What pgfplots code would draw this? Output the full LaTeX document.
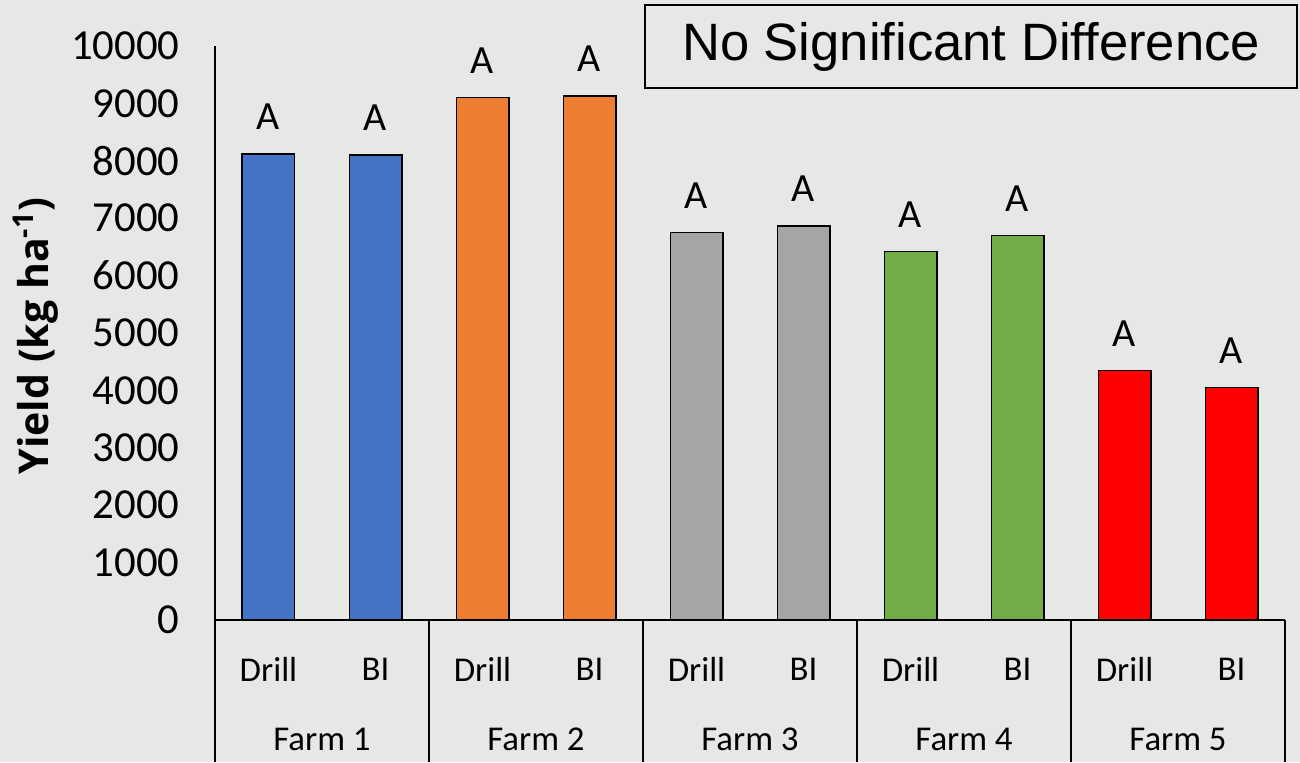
\documentclass[border=0pt]{standalone}
\usepackage{pgfplots}
\pgfplotsset{compat=1.18}
\usepackage{fontspec}
\setmainfont{Carlito}
\newfontfamily\opensans{Open Sans}
\newfontfamily\arial{Liberation Sans}
\definecolor{bg}{RGB}{230,232,230}
\definecolor{c1}{HTML}{4472C4}
\definecolor{c2}{HTML}{ED7D31}
\definecolor{c3}{HTML}{A5A5A5}
\definecolor{c4}{HTML}{70AD47}
\definecolor{c5}{HTML}{FF0000}
\begin{document}
\begin{tikzpicture}[x=1pt,y=1pt]
\fill[bg] (-107.5,-71) rectangle (542.5,310);
\useasboundingbox (-107.5,-71) rectangle (542.5,310);
\begin{axis}[
  at={(0,0)}, anchor=south west,
  scale only axis, width=535pt, height=287pt,
  xmin=-0.5, xmax=9.5, ymin=0, ymax=10000,
  scaled y ticks=false,
  axis x line*=bottom, axis y line*=left,
  axis line style={line width=1pt, black},
  ybar, bar width=26.4pt, bar shift=0pt,
  xtick={0,1,2,3,4,5,6,7,8,9},
  xticklabels={Drill,BI,Drill,BI,Drill,BI,Drill,BI,Drill,BI},
  ytick={0,1000,2000,3000,4000,5000,6000,7000,8000,9000,10000},
  yticklabels={0,1000,2000,3000,4000,5000,6000,7000,8000,9000,10000},
  major tick length=0pt,
  yticklabel style={font=\fontsize{21.4}{24}\selectfont, anchor=east, inner sep=0pt, xshift=-17.5pt},
  xticklabel style={font=\fontsize{17.4}{20}\selectfont, anchor=center, inner sep=0pt, yshift=-24.5pt},
  extra x ticks={0.5,2.5,4.5,6.5,8.5},
  extra x tick labels={Farm 1,Farm 2,Farm 3,Farm 4,Farm 5},
  extra x tick style={xticklabel style={yshift=-35pt}},
  clip=false,
  nodes near coords={A},
  every node near coord/.append style={font=\fontsize{20}{24}\selectfont, anchor=center, yshift=18.5pt, black},
  ylabel={\opensans\bfseries Yield (kg ha\textsuperscript{-1})},
  ylabel style={at={(axis description cs:-0.1673,0.4948)}, anchor=center, font=\fontsize{20.5}{24}\selectfont},
]
\addplot[fill=c1, draw=black, line width=0.6pt, bar shift=0pt] coordinates {(0,8120) (1,8100)};
\addplot[fill=c2, draw=black, line width=0.6pt, bar shift=0pt] coordinates {(2,9100) (3,9130)};
\addplot[fill=c3, draw=black, line width=0.6pt, bar shift=0pt] coordinates {(4,6755) (5,6865)};
\addplot[fill=c4, draw=black, line width=0.6pt, bar shift=0pt] coordinates {(6,6425) (7,6700)};
\addplot[fill=c5, draw=black, line width=0.6pt, bar shift=0pt] coordinates {(8,4340) (9,4050)};
\pgfplotsinvokeforeach{-0.5,1.5,3.5,5.5,7.5,9.5}{
  \draw[line width=0.8pt] (axis cs:#1,0) -- ([yshift=-71pt]axis cs:#1,0);
}
\end{axis}
\draw[line width=1pt] (215,266) rectangle (541,307.5);
\node[font=\arial\fontsize{26.3}{30}\selectfont, inner sep=0pt] at (378,286.75) {No Significant Difference};
\end{tikzpicture}
\end{document}
